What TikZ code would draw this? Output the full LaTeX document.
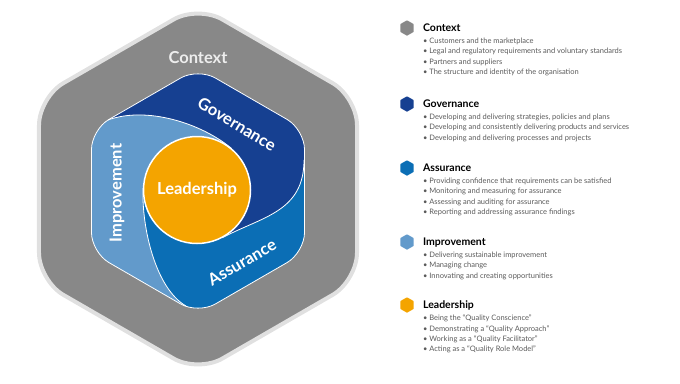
\documentclass[tikz,border=0pt]{standalone}
\usepackage{fontspec}
\setmainfont{Lato}
\usetikzlibrary{positioning,shapes.geometric}
\definecolor{ctxgray}{RGB}{136,136,136}
\definecolor{ctxedge}{RGB}{224,224,224}
\definecolor{govblue}{RGB}{22,64,145}
\definecolor{assblue}{RGB}{11,110,181}
\definecolor{impblue}{RGB}{98,154,203}
\definecolor{leadorange}{RGB}{244,164,0}
\definecolor{itemgray}{RGB}{90,90,90}
\newcommand{\hexpath}[1]{(90:#1) -- (30:#1) -- (-30:#1) -- (-90:#1) -- (-150:#1) -- (150:#1) -- cycle}
\tikzset{
  lbl/.style={text=white, font=\fontsize{16.5}{18}\selectfont\bfseries, inner sep=0pt},
  icon/.style={regular polygon, regular polygon sides=6, shape border rotate=30,
    minimum size=15.5pt, inner sep=0pt, rounded corners=0.5pt},
  head/.style={font=\fontsize{10.5}{12}\selectfont\bfseries, inner sep=0pt,
    text height=7.5pt, text depth=0pt},
  items/.style={font=\fontsize{7.5}{10.2}\selectfont, text=itemgray, align=left, inner sep=0pt}
}

\begin{document}
\begin{tikzpicture}[x=1pt, y=1pt]
      \useasboundingbox (0,0) rectangle (680,-383);
      \draw[ctxedge, line width=4pt, fill=ctxgray, rounded corners=28pt, shift={(198,-189)}] \hexpath{183.6};

      \coordinate (q1) at (231.7,-148.6);
      \coordinate (q2) at (222.4,-237.7);
      \coordinate (q3) at (143.0,-188.1);
      \coordinate (p1) at (108,-120);
      \coordinate (p2) at (304,-160);
      \coordinate (p3) at (186,-306);

      \begin{scope}
        \clip[shift={(198,-191)}, rounded corners=20pt] \hexpath{123};
        \fill[assblue] (60,-40) rectangle (340,-340);
        \fill[govblue] (q2) arc[start angle=-62, end angle=50, radius=54]
            .. controls (201.1,-122.9) and (146,-106) .. (p1)
            -- (88,-85) -- (198,-20) -- (330,-100) -- (345,-160) -- (p2)
            .. controls (304,-212) and (262.1,-216.6) .. (q2) -- cycle;
        \fill[impblue] (q1) arc[start angle=50, end angle=178, radius=54]
            .. controls (141.6,-228.1) and (155.7,-288.5) .. (p3)
            -- (167,-340) -- (50,-280) -- (50,-110) -- (88,-85) -- (p1)
            .. controls (146,-106) and (201.1,-122.9) .. (q1) -- cycle;
        \draw[white, line width=0.8pt] (q1) .. controls (201.1,-122.9) and (146,-106) .. (p1);
        \draw[white, line width=0.8pt] (q2) .. controls (262.1,-216.6) and (304,-212) .. (p2);
        \draw[white, line width=0.8pt] (q3) .. controls (141.6,-228.1) and (155.7,-288.5) .. (p3);
      \end{scope}
      \draw[white, line width=0.8pt, shift={(198,-191)}, rounded corners=20pt] \hexpath{123};

      \node[circle, fill=leadorange, draw=white, line width=1.5pt, minimum size=107pt, lbl] (lead) at (197,-190) {Leadership};
      \node[lbl, text=white!93!black] (ctxlbl) at (198,-58) {Context};
      \node[lbl, rotate=-31] (govlbl) at (237,-124) {Governance};
      \node[lbl, rotate=30] (asslbl) at (242,-262) {Assurance};
      \node[lbl, rotate=90] (implbl) at (117,-193) {Improvement};

      \node[icon, fill=ctxgray] (ctxicon) at (407,-28) {};
      \node[head, right=9pt of ctxicon] (ctxhead) {Context};
      \node[items, below=6pt of ctxhead.south west, anchor=north west] (ctxitems)
            {• Customers and the marketplace\\
             • Legal and regulatory requirements and voluntary standards\\
             • Partners and suppliers\\
             • The structure and identity of the organisation};

      \node[icon, fill=govblue] (govicon) at (407,-104) {};
      \node[head, right=9pt of govicon] (govhead) {Governance};
      \node[items, below=6pt of govhead.south west, anchor=north west] (govitems)
            {• Developing and delivering strategies, policies and plans\\
             • Developing and consistently delivering products and services\\
             • Developing and delivering processes and projects};

      \node[icon, fill=assblue] (assicon) at (407,-168) {};
      \node[head, right=9pt of assicon] (asshead) {Assurance};
      \node[items, below=6pt of asshead.south west, anchor=north west] (assitems)
            {• Providing confidence that requirements can be satisfied\\
             • Monitoring and measuring for assurance\\
             • Assessing and auditing for assurance\\
             • Reporting and addressing assurance findings};

      \node[icon, fill=impblue] (impicon) at (407,-242) {};
      \node[head, right=9pt of impicon] (imphead) {Improvement};
      \node[items, below=6pt of imphead.south west, anchor=north west] (impitems)
            {• Delivering sustainable improvement\\
             • Managing change\\
             • Innovating and creating opportunities};

      \node[icon, fill=leadorange] (leadicon) at (407,-305) {};
      \node[head, right=9pt of leadicon] (leadhead) {Leadership};
      \node[items, below=6pt of leadhead.south west, anchor=north west] (leaditems)
            {• Being the “Quality Conscience”\\
             • Demonstrating a “Quality Approach”\\
             • Working as a “Quality Facilitator”\\
             • Acting as a “Quality Role Model”};
    \end{tikzpicture}
\end{document}
